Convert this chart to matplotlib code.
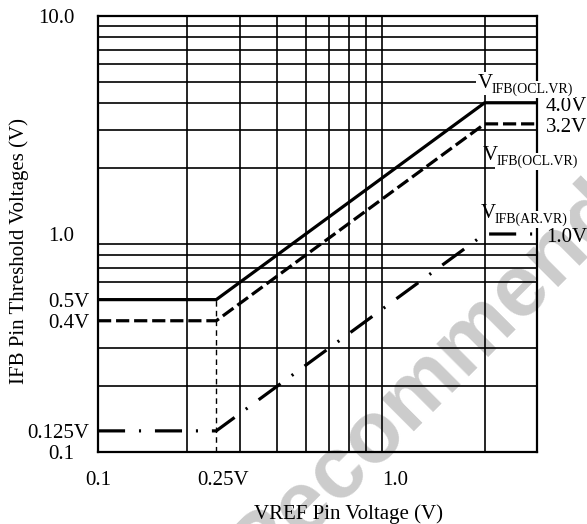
import matplotlib
matplotlib.use('Agg')
import matplotlib.pyplot as plt
import matplotlib.transforms as mtransforms
from matplotlib.ticker import LogLocator, NullFormatter

plt.rcParams['font.family'] = ['Liberation Serif', 'DejaVu Serif']
plt.rcParams['lines.scale_dashes'] = False

# ---------------- data ----------------
vref = [0.1, 0.25, 2.0, 3.0]
ocl_high = [0.5, 0.5, 4.0, 4.0]      # V_IFB(OCL.VR) upper
ocl_low = [0.4, 0.4, 3.2, 3.2]       # V_IFB(OCL.VR) lower
ar_vr = [0.125, 0.125, 1.0, 1.0]     # V_IFB(AR.VR)
knee_x = [0.25, 0.25]
knee_y = [0.1, 0.5]

xtick_vals = [0.1, 0.25, 1.0]
xtick_labels = ['0.1', '0.25V', '1.0']
ytick_vals = [0.1, 0.125, 0.4, 0.5, 1.0, 10.0]
ytick_labels = ['0.1', '0.125V', '0.4V', '0.5V', '1.0', '10.0']

end_vals = [4.0, 3.2, 1.0]
end_labels = ['4.0V', '3.2V', '1.0V']
name_labels = ['IFB(OCL.VR)', 'IFB(OCL.VR)', 'IFB(AR.VR)']

W, H = 587, 524
fig = plt.figure(figsize=(W / 100, H / 100), dpi=100)
L, R, T, B = 98, 537, 16, 452
ax = fig.add_axes([L / W, 1 - B / H, (R - L) / W, (B - T) / H])
ax.patch.set_alpha(0)
ax.set_zorder(1)

# watermark (behind everything)
fig.text(463 / W, 1 - 345 / H, 'Recommended', fontsize=63, family='Liberation Sans',
         weight='bold', color='#cccccc', rotation=45, rotation_mode='anchor',
         ha='center', va='center', zorder=-1)

ax.set_xscale('log')
ax.set_yscale('log')
ax.set_xlim(0.1, 3.0)
ax.set_ylim(0.1, 10.0)

ax.xaxis.set_minor_locator(LogLocator(base=10, subs=range(1, 10)))
ax.yaxis.set_minor_locator(LogLocator(base=10, subs=range(1, 10)))
ax.xaxis.set_minor_formatter(NullFormatter())
ax.yaxis.set_minor_formatter(NullFormatter())
ax.grid(False, which='major')
ax.grid(True, which='minor', color='black', linewidth=1.2)
ax.set_axisbelow(True)

ax.set_xticks(xtick_vals, xtick_labels)
ax.set_yticks(ytick_vals, ytick_labels)
ax.tick_params(which='both', length=0)
ax.tick_params(axis='x', labelsize=15, pad=14)
ax.tick_params(axis='y', labelsize=15, pad=6)

for sp in ax.spines.values():
    sp.set_linewidth(1.6)

# align tick labels like the reference (numbers aligned, trailing V extra)
for lab in ax.get_yticklabels():
    if not lab.get_text().endswith('V'):
        lab.set_transform(lab.get_transform() + mtransforms.ScaledTranslation(-15 / 100, 0, fig.dpi_scale_trans))
for lab in ax.get_xticklabels():
    if lab.get_text().endswith('V'):
        lab.set_transform(lab.get_transform() + mtransforms.ScaledTranslation(7 / 100, 0, fig.dpi_scale_trans))

# lines
ax.plot(vref, ocl_high, color='black', linewidth=2.3, solid_capstyle='butt', zorder=3)
ax.plot(vref, ocl_low, color='black', linewidth=2.3, dashes=[9.5, 3.5], dash_capstyle='butt', zorder=3)
ax.plot(vref, ar_vr, color='black', linewidth=2.3, dashes=[19.5, 10, 1.5, 10], dash_capstyle='butt', zorder=3)
ax.plot(knee_x, knee_y, color='black', linewidth=1.0, dashes=[4, 3], zorder=3)

# right labels
off_right = mtransforms.ScaledTranslation(9 / 100, -8 / 100, fig.dpi_scale_trans)
btrans = mtransforms.blended_transform_factory(ax.transAxes, ax.transData)
for v, lab in zip(end_vals, end_labels):
    ax.text(1.0, v, lab, transform=btrans + off_right, fontsize=15, ha='left', va='baseline', clip_on=False, zorder=5)

name_pos = [(478, 88), (483, 160), (481, 218)]
for i, ((px, py), lab) in enumerate(zip(name_pos, name_labels)):
    xf = (px - L) / (R - L)
    yf = (B - py) / (B - T)
    box = dict(facecolor='white', edgecolor='none', pad=1.5)
    ax.text(xf, yf, 'V', transform=ax.transAxes, fontsize=15, ha='left', va='baseline',
            clip_on=False, zorder=5, bbox=box if i == 0 else None)
    ax.text(xf + 14 / (R - L), yf - 5 / (B - T), lab, transform=ax.transAxes, fontsize=10,
            ha='left', va='baseline', clip_on=False, zorder=5, bbox=box)

fig.text(349 / W, 1 - 514 / H, 'VREF Pin Voltage (V)', fontsize=15, ha='center', va='center')
fig.text(19 / W, 1 - 251 / H, 'IFB Pin Threshold Voltages (V)', fontsize=15, ha='center',
         va='center', rotation=90)

fig.savefig('out.png', dpi=100)
